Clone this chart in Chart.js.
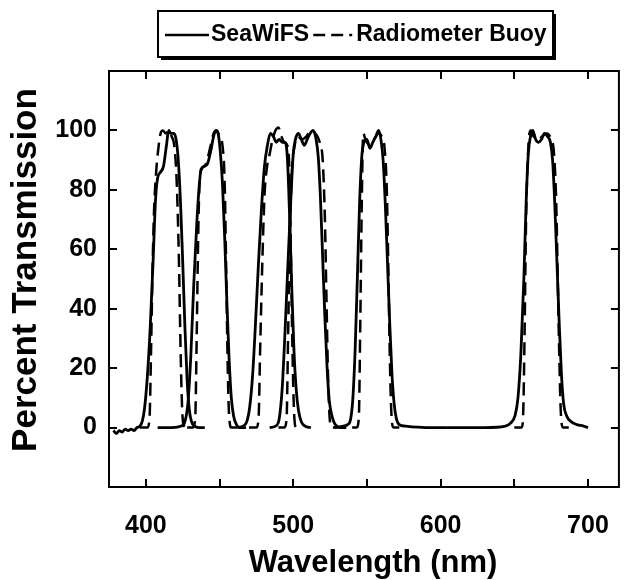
<!DOCTYPE html>
<html>
<head>
<meta charset="utf-8">
<script src="https://cdn.jsdelivr.net/npm/chart.js@4.4.1/dist/chart.umd.min.js"></script>
<style>
  html, body { margin: 0; padding: 0; background: #ffffff; }
  #wrap { width: 633px; height: 580px; }
</style>
</head>
<body>
<div id="wrap"><canvas id="chart" width="633" height="580"></canvas></div>
<script>
// Spectral response of the six SeaWiFS bands and the radiometer buoy filters.
// Each band: [wavelength (nm), percent transmission]

const seriesNames = ['SeaWiFS', 'Radiometer Buoy'];
const xTitle = 'Wavelength (nm)';
const yTitle = 'Percent Transmission';

const xTickValues = [400, 450, 500, 550, 600, 650, 700];
const xTickLabels = ['400', '', '500', '', '600', '', '700'];
const yTickValues = [0, 20, 40, 60, 80, 100];
const yTickLabels = ['0', '20', '40', '60', '80', '100'];

const seawifs412 = [
  [378, -1], [380, -2], [382, -1], [384, -1.5], [386, -0.5], [388, -1], [390, -0.5],
  [392, -1], [394, 0], [396, 0.5], [397.5, 2], [399, 6], [401, 17], [403, 34],
  [405, 57], [406.5, 76], [408, 84], [410, 86], [412, 88], [414, 95], [415.5, 100],
  [417, 99], [419, 99], [420.5, 97], [422, 90], [423.5, 76], [425, 56], [426.5, 34],
  [428, 16], [429.5, 6], [431, 2], [433, 0.5], [436, 0], [440, 0]
];
const seawifs443 = [
  [408, 0], [418, 0], [424, 0.5], [426.5, 2], [428.5, 8], [430.5, 24], [432.5, 48],
  [434.5, 68], [436, 80], [437.5, 87], [440, 88], [442, 89], [444, 93], [446, 98],
  [447.5, 100], [449, 99], [450.5, 93], [452, 82], [453.5, 64], [455, 42], [456.5, 23],
  [458, 10], [459.5, 4], [461.5, 1], [464, 0], [468, 0]
];
const seawifs490 = [
  [462, 0], [466, 0.5], [468.5, 2], [470.5, 7], [472.5, 18], [474.5, 36], [476.5, 56],
  [478.5, 74], [480.5, 88], [482.5, 95], [484.5, 99], [486.5, 98], [488.5, 96],
  [490.5, 97], [492.5, 96], [494.5, 96], [496, 91], [497.5, 72], [499, 47], [500.5, 26],
  [502, 13], [503.5, 6], [505.5, 2], [508, 0.5], [512, 0]
];
const seawifs510 = [
  [484, 0], [488, 0.5], [490.5, 3], [492.5, 13], [494.5, 33], [496.5, 56], [498.5, 78],
  [500, 92], [501.5, 97], [503.5, 99], [505.5, 97], [507.5, 95], [509.5, 97], [511.5, 99],
  [513.5, 100], [515.5, 97], [517, 91], [518.5, 77], [520, 57], [521.5, 37], [523, 20],
  [524.5, 9], [526.5, 3.5], [528.5, 1], [532, 0], [536, 0]
];
const seawifs555 = [
  [528, 0], [534, 0.5], [537, 1], [539, 3], [540.5, 10], [542, 26], [543.5, 50],
  [545, 75], [546.5, 91], [548, 96], [550, 97], [552, 94], [554, 96], [556, 98],
  [558, 100], [559.5, 97], [561, 90], [562.5, 75], [564, 55], [565.5, 35], [567, 18],
  [568.5, 8], [570, 3], [572, 1], [576, 0.5], [590, 0], [605, 0]
];
const seawifs670 = [
  [605, 0], [630, 0], [644, 0.5], [647.5, 1.5], [650.5, 4], [652.5, 10], [654.5, 25],
  [656.5, 50], [658, 75], [659.5, 92], [661, 98], [662.5, 100], [664.5, 97], [666.5, 96],
  [668.5, 97], [670.5, 99], [672.5, 98], [674.5, 96], [676, 90], [677.5, 75], [679, 55],
  [680.5, 35], [682, 18], [683.5, 8], [685.5, 4], [688.5, 2], [692.5, 1], [697, 0.5], [700, 0]
];

const buoy412 = [
  [396, 0], [401, 0], [402.5, 3], [403.5, 25], [404.5, 52], [405.5, 72], [407, 86],
  [408.5, 94], [410, 99], [411.5, 100], [413.5, 99], [415.5, 100], [417.5, 98],
  [419.5, 94], [421, 82], [422.5, 55], [423.5, 28], [424.5, 8], [425.5, 1], [428, 0]
];
const buoy443 = [
  [428, 0], [432, 0], [433.5, 3], [434.5, 30], [435.5, 64], [436.5, 83], [438, 87],
  [441, 89], [444, 95], [446, 99], [448, 100], [450, 98], [452, 95], [453.5, 82],
  [454.5, 54], [455.5, 22], [456.5, 4], [458, 0], [462, 0]
];
const buoy490 = [
  [470, 0], [475, 0], [476.5, 3], [477.5, 25], [479, 55], [480.5, 78], [482, 87],
  [484, 92], [486, 97], [488, 100], [490, 101], [492, 98], [494, 96], [496, 95],
  [497.5, 85], [498.5, 56], [499.5, 26], [500.5, 6], [502, 0], [506, 0]
];
const buoy510 = [
  [490, 0], [494, 0], [495.5, 3], [496.5, 30], [497.5, 60], [499, 85], [501, 95],
  [503, 98], [506, 97], [509, 98], [512, 100], [515, 99], [518, 96], [520, 90],
  [521.5, 70], [522.5, 45], [523.5, 20], [524.5, 5], [526, 0], [530, 0]
];
const buoy555 = [
  [540, 0], [543, 0], [544.5, 3], [545.5, 35], [546.5, 75], [547.5, 99], [549, 97],
  [552, 95], [555, 97], [558, 99], [560, 98], [562, 94], [563.5, 80], [564.5, 55],
  [565.5, 25], [566.5, 6], [568, 0], [572, 0]
];
const buoy670 = [
  [650, 0], [655, 0], [656, 4], [657, 32], [658, 70], [659.5, 94], [661, 100],
  [663, 98], [666, 97], [669, 98], [672, 99], [675, 97], [677, 92], [678.5, 75],
  [679.5, 50], [680.5, 25], [681.5, 6], [683, 0], [687, 0]
];

const seawifsBands = [seawifs412, seawifs443, seawifs490, seawifs510, seawifs555, seawifs670];
const buoyBands = [buoy412, buoy443, buoy490, buoy510, buoy555, buoy670];

const SOLID = [];
const DASHED = [13, 7];
const FONT = '"Liberation Sans", Arial, Helvetica, sans-serif';

function toPoints(band) {
  return band.map(p => ({ x: p[0], y: p[1] }));
}

const datasets = [];
seawifsBands.forEach(b => datasets.push({
  label: seriesNames[0], data: toPoints(b), borderColor: '#000', borderWidth: 2.8,
  borderDash: SOLID, pointRadius: 0, fill: false, cubicInterpolationMode: 'monotone'
}));
buoyBands.forEach(b => datasets.push({
  label: seriesNames[1], data: toPoints(b), borderColor: '#000', borderWidth: 2.5,
  borderDash: DASHED, pointRadius: 0, fill: false, cubicInterpolationMode: 'monotone'
}));

// Frame around the plot, inward tick marks on all four sides, axis titles and the boxed legend.
const framePlugin = {
  id: 'frameTicksLegend',
  afterDraw(chart) {
    const ctx = chart.ctx;
    const a = chart.chartArea;
    const xs = chart.scales.x, ys = chart.scales.y;
    ctx.save();
    ctx.strokeStyle = '#000';
    ctx.lineWidth = 2;
    ctx.setLineDash([]);
    ctx.strokeRect(a.left, a.top, a.right - a.left, a.bottom - a.top);
    const tl = 8;
    ctx.beginPath();
    xTickValues.forEach(v => {
      const px = Math.round(xs.getPixelForValue(v));
      ctx.moveTo(px, a.bottom); ctx.lineTo(px, a.bottom - tl);
      ctx.moveTo(px, a.top); ctx.lineTo(px, a.top + tl);
    });
    yTickValues.forEach(v => {
      const py = Math.round(ys.getPixelForValue(v));
      ctx.moveTo(a.left, py); ctx.lineTo(a.left + tl, py);
      ctx.moveTo(a.right, py); ctx.lineTo(a.right - tl, py);
    });
    ctx.stroke();

    // axis titles
    ctx.fillStyle = '#000';
    ctx.textAlign = 'center';
    ctx.textBaseline = 'alphabetic';
    ctx.font = 'bold 31px ' + FONT;
    ctx.fillText(xTitle, 373, 572);
    ctx.save();
    ctx.translate(36, 270);
    ctx.rotate(-Math.PI / 2);
    ctx.font = 'bold 35px ' + FONT;
    ctx.fillText(yTitle, 0, 0);
    ctx.restore();

    // legend box with drop shadow
    const bx = 158, by = 11, bw = 395, bh = 46;
    ctx.fillStyle = '#000';
    ctx.fillRect(bx + 3, by + 3, bw, bh);
    ctx.fillStyle = '#fff';
    ctx.fillRect(bx, by, bw, bh);
    ctx.lineWidth = 2;
    ctx.strokeRect(bx, by, bw, bh);

    const cy = by + bh / 2 + 1;
    ctx.font = 'bold 23px ' + FONT;
    ctx.textBaseline = 'middle';
    ctx.textAlign = 'left';
    ctx.fillStyle = '#000';
    let cx = 165;
    ctx.lineWidth = 2.5;
    ctx.beginPath();
    ctx.moveTo(cx, cy); ctx.lineTo(cx + 44, cy);
    ctx.stroke();
    cx += 46;
    ctx.fillText(seriesNames[0], cx, cy);
    cx += ctx.measureText(seriesNames[0]).width + 4;
    ctx.setLineDash([12, 6, 12, 6, 3, 20]);
    ctx.beginPath();
    ctx.moveTo(cx, cy); ctx.lineTo(cx + 39, cy);
    ctx.stroke();
    ctx.setLineDash([]);
    cx += 43;
    ctx.fillText(seriesNames[1], cx, cy);
    ctx.restore();
  }
};

new Chart(document.getElementById('chart'), {
  type: 'line',
  data: { datasets },
  options: {
    responsive: false,
    animation: false,
    devicePixelRatio: 1,
    layout: { padding: { top: 71, right: 3, left: 0, bottom: 0 } },
    plugins: { legend: { display: false }, tooltip: { enabled: false } },
    scales: {
      x: {
        type: 'linear', min: 375, max: 721,
        afterBuildTicks(scale) { scale.ticks = xTickValues.map(v => ({ value: v })); },
        afterFit(scale) { scale.height = 93; },
        grid: { display: false, drawTicks: false },
        border: { display: false },
        ticks: {
          padding: 24, color: '#000', font: { family: FONT, size: 25, weight: 'bold' },
          maxRotation: 0, autoSkip: false,
          callback: (v) => xTickLabels[xTickValues.indexOf(v)] ?? ''
        },
        title: { display: false }
      },
      y: {
        type: 'linear', min: -20, max: 120,
        afterBuildTicks(scale) { scale.ticks = yTickValues.map(v => ({ value: v })); },
        afterFit(scale) { scale.width = 109; },
        grid: { display: false, drawTicks: false },
        border: { display: false },
        ticks: {
          padding: 12, color: '#000', font: { family: FONT, size: 25, weight: 'bold' },
          autoSkip: false,
          callback: (v) => yTickLabels[yTickValues.indexOf(v)] ?? ''
        },
        title: { display: false }
      }
    }
  },
  plugins: [framePlugin]
});
</script>
</body>
</html>
